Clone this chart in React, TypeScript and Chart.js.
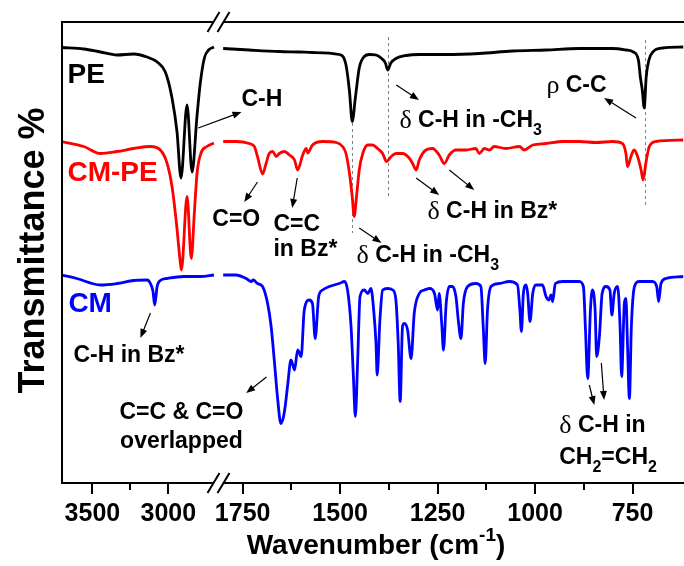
import React, { useEffect, useRef } from 'react';
import { Chart, registerables } from 'chart.js';
Chart.register(...registerables);

// ---------- DATA (wavenumber in cm-1, transmittance in offset units) ----------
// High-wavenumber segment (3700 - 2700 cm-1)
const PE_L_WN = [3700, 3557, 3447, 3338, 3228, 3140, 3074, 3020, 2976, 2943, 2917, 2877, 2844, 2811, 2789, 2763, 2735, 2700];
const PE_L_T = [87.1, 86.8, 86.2, 85.6, 85.8, 85.2, 84.2, 82.2, 77.0, 70.2, 61.0, 75.6, 62.2, 73.6, 80.2, 85.0, 86.6, 87.2];

const CMPE_L_WN = [3700, 3557, 3447, 3338, 3228, 3118, 3053, 3009, 2976, 2947, 2921, 2914, 2877, 2849, 2829, 2811, 2785, 2746, 2700];
const CMPE_L_T = [68.3, 67.3, 65.9, 66.3, 66.9, 67.3, 66.6, 64.0, 59.3, 52.0, 44.0, 42.6, 57.3, 44.9, 54.0, 62.0, 66.0, 67.3, 68.0];

const CM_L_WN = [3700, 3603, 3447, 3338, 3228, 3140, 3118, 3101, 3090, 3074, 3053, 3009, 2899, 2789, 2700];
const CM_L_T = [41.6, 40.9, 39.6, 39.9, 40.5, 40.6, 39.9, 38.3, 35.6, 39.3, 40.5, 40.9, 41.3, 41.3, 41.6];

// Fingerprint segment (1800 - 620 cm-1)
const PE_R_WN = [1800, 1733, 1656, 1605, 1571, 1502, 1485, 1476, 1469, 1461, 1451, 1438, 1425, 1408, 1395, 1384, 1378, 1370, 1357, 1331, 1297, 1228, 1143, 1058, 972, 887, 801, 767, 748, 735, 730, 725, 720, 715, 708, 698, 672, 620];
const PE_R_T = [86.9, 86.6, 86.3, 86.2, 86.1, 85.7, 83.6, 78.3, 72.3, 77.0, 83.0, 85.3, 85.7, 85.6, 85.0, 84.0, 82.6, 84.0, 84.9, 85.5, 85.7, 85.7, 85.9, 86.4, 86.6, 86.9, 86.9, 86.6, 86.2, 84.6, 81.2, 78.6, 75.0, 81.2, 84.6, 86.2, 87.0, 87.2];

const CMPE_R_WN = [1800, 1767, 1733, 1720, 1712, 1699, 1690, 1682, 1673, 1664, 1656, 1643, 1630, 1617, 1609, 1596, 1587, 1583, 1571, 1545, 1510, 1494, 1485, 1476, 1469, 1464, 1458, 1451, 1442, 1429, 1417, 1404, 1391, 1381, 1369, 1357, 1340, 1323, 1314, 1305, 1297, 1280, 1263, 1246, 1233, 1220, 1203, 1177, 1152, 1143, 1130, 1117, 1105, 1075, 1040, 1028, 1006, 972, 929, 887, 844, 801, 776, 767, 763, 754, 746, 737, 728, 723, 716, 707, 690, 620];
const CMPE_R_T = [68.3, 68.3, 67.9, 67.3, 65.3, 61.8, 63.9, 65.9, 66.3, 65.3, 65.9, 66.3, 65.6, 64.6, 62.6, 65.6, 66.9, 66.0, 67.6, 68.3, 68.1, 67.3, 65.9, 61.9, 57.3, 53.3, 57.3, 62.6, 65.9, 67.6, 67.6, 66.9, 65.9, 64.3, 65.3, 65.9, 65.9, 65.0, 63.9, 62.6, 64.6, 66.6, 66.9, 65.6, 63.9, 65.6, 66.6, 66.6, 66.9, 65.9, 66.9, 66.6, 67.3, 66.9, 67.3, 66.6, 67.6, 67.9, 68.3, 68.3, 68.1, 68.3, 67.9, 65.9, 63.3, 65.3, 66.6, 65.3, 62.6, 60.6, 63.9, 67.3, 68.3, 68.6];

const CM_R_WN = [1800, 1767, 1741, 1728, 1723, 1712, 1699, 1686, 1677, 1669, 1660, 1652, 1646, 1641, 1635, 1626, 1617, 1609, 1600, 1592, 1579, 1571, 1564, 1555, 1545, 1528, 1502, 1489, 1481, 1472, 1466, 1461, 1455, 1449, 1438, 1429, 1421, 1414, 1408, 1405, 1398, 1391, 1378, 1365, 1357, 1351, 1346, 1340, 1335, 1327, 1318, 1310, 1297, 1284, 1271, 1258, 1250, 1246, 1239, 1235, 1228, 1220, 1212, 1203, 1197, 1190, 1184, 1173, 1152, 1139, 1133, 1128, 1122, 1113, 1092, 1066, 1045, 1039, 1035, 1030, 1023, 1019, 1013, 1006, 998, 981, 972, 965, 959, 955, 948, 929, 887, 876, 871, 865, 858, 853, 846, 842, 835, 828, 818, 808, 803, 797, 788, 782, 778, 771, 767, 763, 758, 753, 745, 733, 699, 688, 683, 677, 664, 620];
const CM_R_T = [41.6, 41.6, 40.9, 40.3, 40.6, 39.9, 39.3, 35.9, 31.3, 24.6, 16.6, 11.9, 13.0, 15.3, 19.3, 24.6, 22.6, 26.6, 25.3, 34.6, 36.6, 35.9, 28.9, 37.3, 38.6, 39.3, 39.9, 40.3, 38.6, 31.3, 21.3, 13.3, 24.6, 37.3, 38.6, 37.9, 38.9, 34.6, 27.9, 21.6, 32.6, 38.6, 38.9, 38.6, 36.6, 27.9, 16.3, 31.3, 31.9, 30.6, 24.9, 33.9, 37.9, 38.6, 38.9, 37.9, 34.6, 37.9, 31.3, 26.6, 35.9, 39.3, 39.3, 37.3, 32.6, 28.9, 35.9, 39.3, 39.9, 39.3, 31.3, 23.9, 34.6, 39.3, 39.9, 40.3, 39.6, 34.6, 30.3, 37.9, 39.6, 37.9, 32.3, 37.9, 39.6, 39.6, 37.3, 36.6, 37.6, 36.3, 39.9, 40.3, 40.3, 39.3, 31.3, 20.9, 34.6, 38.6, 34.6, 25.3, 29.3, 37.9, 39.3, 38.6, 33.6, 37.9, 39.3, 31.3, 21.3, 35.9, 36.9, 27.9, 16.9, 31.3, 39.3, 40.3, 40.3, 39.3, 36.3, 39.9, 40.9, 41.3];

const SERIES_NAMES = ['PE', 'CM-PE', 'CM'];
const L_TICKS = [3500, 3250, 3000];
const R_TICKS = [1750, 1625, 1500, 1375, 1250, 1125, 1000, 875, 750];
const L_LABELED = [3500, 3000];
const R_LABELED = [1750, 1500, 1250, 1000, 750];

// ---------- STYLE / LAYOUT ----------
const COLORS = ['#000000', '#ff0000', '#0000ff'];
const FONT = '"Liberation Sans", Arial, Helvetica, sans-serif';
const GREEK = '"Liberation Serif", "DejaVu Serif", "Times New Roman", serif';
const L_RANGE = [2670, 3700];
const R_RANGE = [618, 1812];
const L_DENS = 0.152;
const R_DENS = 0.39;

type Part = [string, string];
const SERIES_LABELS = [
  { w: 3664, v: 81.6 },
  { w: 3664, v: 62.0 },
  { w: 3658, v: 35.8 },
];
const ANNOTS: { w: number; v: number; parts: Part[]; align?: string }[] = [
  { w: 1753, v: 76.6, parts: [['C-H', 'b']] },
  { w: 2711, v: 52.6, parts: [['C=O', 'b']] },
  { w: 1671, v: 51.6, parts: [['C=C', 'b']] },
  { w: 1671, v: 46.6, parts: [['in Bz*', 'b']] },
  { w: 1458, v: 45.4, parts: [['δ', 'g'], [' C-H in -CH', 'b'], ['3', 'sub']] },
  { w: 1276, v: 54.2, parts: [['δ', 'g'], [' C-H in Bz*', 'b']] },
  { w: 1348, v: 72.4, parts: [['δ', 'g'], [' C-H in -CH', 'b'], ['3', 'sub']] },
  { w: 971, v: 79.4, parts: [['ρ', 'g'], [' C-C', 'b']] },
  { w: 3625, v: 25.4, parts: [['C-H in Bz*', 'b']] },
  { w: 2914, v: 14.0, align: 'center', parts: [['C=C & C=O', 'b']] },
  { w: 2914, v: 8.2, align: 'center', parts: [['overlapped', 'b']] },
  { w: 938, v: 11.4, parts: [['δ', 'g'], [' C-H in', 'b']] },
  { w: 938, v: 5.0, parts: [['CH', 'b'], ['2', 'sub'], ['=CH', 'b'], ['2', 'sub']] },
];
const ARROWS = [
  [2803, 71.0, 1753, 74.2],
  [1712, 60.2, 1746, 56.2],
  [1610, 61.0, 1623, 55.0],
  [1451, 51.0, 1394, 48.0],
  [1305, 61.0, 1246, 57.6],
  [1220, 62.6, 1156, 58.6],
  [1356, 79.6, 1298, 76.6],
  [741, 73.0, 823, 77.0],
  [3118, 34.0, 3184, 29.0],
  [1689, 21.2, 1741, 18.0],
  [861, 19.6, 848, 15.6],
  [830, 24.0, 823, 16.6],
];
const GUIDES = [
  { w: 1469, top: 72.0, bottom: 50.0 },
  { w: 1378, top: 89.2, bottom: 57.0 },
  { w: 718, top: 88.6, bottom: 55.6 },
];

function xpx(chart: any, w: number) {
  return (w >= 2000 ? chart.scales.xL : chart.scales.xR).getPixelForValue(w);
}

function drawRich(ctx: CanvasRenderingContext2D, x: number, y: number, parts: Part[], size: number, color: string, align?: string) {
  const fontFor = (k: string) =>
    k === 'g' ? `${size + 3}px ${GREEK}` : k === 'sub' || k === 'sup' ? `bold ${Math.round(size * 0.68)}px ${FONT}` : `bold ${size}px ${FONT}`;
  let total = 0;
  const widths = parts.map(([t, k]) => {
    ctx.font = fontFor(k);
    const w = ctx.measureText(t).width;
    total += w;
    return w;
  });
  let cx = align === 'center' ? x - total / 2 : x;
  ctx.fillStyle = color;
  ctx.textBaseline = 'middle';
  ctx.textAlign = 'left';
  parts.forEach(([t, k], i) => {
    ctx.font = fontFor(k);
    const dy = k === 'sub' ? size * 0.4 : k === 'sup' ? -size * 0.38 : 0;
    ctx.fillText(t, cx, y + dy);
    cx += widths[i];
  });
}

function arrow(ctx: CanvasRenderingContext2D, x1: number, y1: number, x2: number, y2: number) {
  const a = Math.atan2(y2 - y1, x2 - x1);
  const L = 9, W = 3.5;
  ctx.beginPath();
  ctx.moveTo(x1, y1);
  ctx.lineTo(x2 - L * 0.6 * Math.cos(a), y2 - L * 0.6 * Math.sin(a));
  ctx.stroke();
  ctx.beginPath();
  ctx.moveTo(x2, y2);
  ctx.lineTo(x2 - L * Math.cos(a) + W * Math.sin(a), y2 - L * Math.sin(a) - W * Math.cos(a));
  ctx.lineTo(x2 - L * Math.cos(a) - W * Math.sin(a), y2 - L * Math.sin(a) + W * Math.cos(a));
  ctx.closePath();
  ctx.fill();
}

const decor = {
  id: 'decor',
  beforeDatasetsDraw(chart: any) {
    const ctx = chart.ctx as CanvasRenderingContext2D;
    const y = chart.scales.y;
    ctx.save();
    ctx.strokeStyle = '#808080';
    ctx.lineWidth = 1;
    ctx.setLineDash([3, 3]);
    for (const g of GUIDES) {
      const x = Math.round(xpx(chart, g.w)) + 0.5;
      ctx.beginPath();
      ctx.moveTo(x, y.getPixelForValue(g.top));
      ctx.lineTo(x, y.getPixelForValue(g.bottom));
      ctx.stroke();
    }
    ctx.restore();
  },
  afterDraw(chart: any) {
    const ctx = chart.ctx as CanvasRenderingContext2D;
    const y = chart.scales.y;
    const { left, right, top, bottom } = chart.chartArea;
    const xb = chart.scales.xL.right;
    ctx.save();
    // frame
    ctx.strokeStyle = '#000';
    ctx.lineWidth = 2;
    ctx.beginPath();
    ctx.moveTo(left, top - 1);
    ctx.lineTo(left, bottom + 1);
    ctx.moveTo(left - 1, top);
    ctx.lineTo(xb - 5, top);
    ctx.moveTo(xb + 5, top);
    ctx.lineTo(right, top);
    ctx.moveTo(left - 1, bottom);
    ctx.lineTo(xb - 5, bottom);
    ctx.moveTo(xb + 5, bottom);
    ctx.lineTo(right, bottom);
    ctx.stroke();
    // break marks
    ctx.beginPath();
    for (const yy of [top, bottom]) {
      for (const k of [0, 10]) {
        ctx.moveTo(xb - 11 + k, yy + 10);
        ctx.lineTo(xb + 1 + k, yy - 10);
      }
    }
    ctx.stroke();
    // tick marks
    ctx.beginPath();
    const sets: [any, number[]][] = [[chart.scales.xL, L_LABELED], [chart.scales.xR, R_LABELED]];
    for (const [sc, lab] of sets) {
      for (const t of sc.ticks) {
        const x = Math.round(sc.getPixelForValue(t.value));
        const len = lab.includes(t.value) ? 11 : 7;
        ctx.moveTo(x, bottom);
        ctx.lineTo(x, bottom + len);
      }
    }
    ctx.stroke();
    // arrows
    ctx.lineWidth = 1.2;
    ctx.fillStyle = '#000';
    ctx.strokeStyle = '#000';
    for (const [w1, v1, w2, v2] of ARROWS) {
      arrow(ctx, xpx(chart, w1), y.getPixelForValue(v1), xpx(chart, w2), y.getPixelForValue(v2));
    }
    // annotations
    for (const a of ANNOTS) {
      drawRich(ctx, xpx(chart, a.w), y.getPixelForValue(a.v), a.parts, 23, '#000', a.align);
    }
    // series labels
    SERIES_LABELS.forEach((p, i) => {
      drawRich(ctx, xpx(chart, p.w), y.getPixelForValue(p.v), [[SERIES_NAMES[i], 'b']], 28, COLORS[i]);
    });
    // x-axis title
    drawRich(ctx, (left + right) / 2 + 3, 546, [['Wavenumber (cm', 'b'], ['-1', 'sup'], [')', 'b']], 28, '#000', 'center');
    // y-axis title
    ctx.translate(34, (top + bottom) / 2 - 2);
    ctx.rotate(-Math.PI / 2);
    ctx.font = `bold 36px ${FONT}`;
    ctx.textAlign = 'center';
    ctx.textBaseline = 'middle';
    ctx.fillStyle = '#000';
    ctx.fillText('Transmittance %', 0, 0);
    ctx.restore();
  },
};

function pts(wn: number[], t: number[]) {
  return wn.map((w, i) => ({ x: w, y: t[i] }));
}

const noPad = (s: any) => {
  s.paddingLeft = 0;
  s.paddingRight = 0;
};

export default function App() {
  const ref = useRef<HTMLCanvasElement>(null);
  useEffect(() => {
    const segs = [
      [PE_L_WN, PE_L_T, PE_R_WN, PE_R_T],
      [CMPE_L_WN, CMPE_L_T, CMPE_R_WN, CMPE_R_T],
      [CM_L_WN, CM_L_T, CM_R_WN, CM_R_T],
    ];
    const datasets: any[] = [];
    segs.forEach((s, i) => {
      const base = {
        label: SERIES_NAMES[i],
        borderColor: COLORS[i],
        backgroundColor: COLORS[i],
        borderWidth: 2.8,
        pointRadius: 0,
        fill: false,
        cubicInterpolationMode: 'monotone',
        yAxisID: 'y',
        order: i,
      };
      datasets.push({ ...base, xAxisID: 'xL', data: pts(s[0], s[1]) });
      datasets.push({ ...base, xAxisID: 'xR', data: pts(s[2], s[3]) });
    });
    const tickFont = { family: FONT, size: 25, weight: 'bold' as const };
    const chart = new Chart(ref.current!, {
      type: 'line',
      data: { datasets },
      options: {
        animation: false,
        responsive: false,
        devicePixelRatio: 1,
        events: [],
        layout: { padding: { left: 62, top: 22, right: 0, bottom: 21 } },
        plugins: { legend: { display: false }, tooltip: { enabled: false } },
        scales: {
          xL: {
            type: 'linear',
            position: 'bottom',
            stack: 'wn',
            stackWeight: (L_RANGE[1] - L_RANGE[0]) * L_DENS,
            weight: 0,
            reverse: true,
            min: L_RANGE[0],
            max: L_RANGE[1],
            offset: false,
            grid: { display: false, drawTicks: false },
            border: { display: false },
            afterBuildTicks: (s: any) => { s.ticks = L_TICKS.map((v) => ({ value: v })); },
            afterFit: noPad,
            ticks: {
              autoSkip: false, maxRotation: 0, minRotation: 0, padding: 16, color: '#000', font: tickFont,
              callback: (v: any) => (L_LABELED.includes(Number(v)) ? String(v) : ''),
            },
          },
          xR: {
            type: 'linear',
            position: 'bottom',
            stack: 'wn',
            stackWeight: (R_RANGE[1] - R_RANGE[0]) * R_DENS,
            weight: 0,
            reverse: true,
            min: R_RANGE[0],
            max: R_RANGE[1],
            offset: false,
            grid: { display: false, drawTicks: false },
            border: { display: false },
            afterBuildTicks: (s: any) => { s.ticks = R_TICKS.map((v) => ({ value: v })); },
            afterFit: noPad,
            ticks: {
              autoSkip: false, maxRotation: 0, minRotation: 0, padding: 16, color: '#000', font: tickFont,
              callback: (v: any) => (R_LABELED.includes(Number(v)) ? String(v) : ''),
            },
          },
          y: { type: 'linear', display: false, min: 0, max: 92.2 },
        },
      } as any,
      plugins: [decor],
    });
    return () => chart.destroy();
  }, []);
  return (
    <div style={{ position: 'fixed', left: 0, top: 0, width: 684, height: 566, overflow: 'hidden', background: '#fff' }}>
      <canvas ref={ref} width={684} height={566} style={{ display: 'block' }} />
    </div>
  );
}
